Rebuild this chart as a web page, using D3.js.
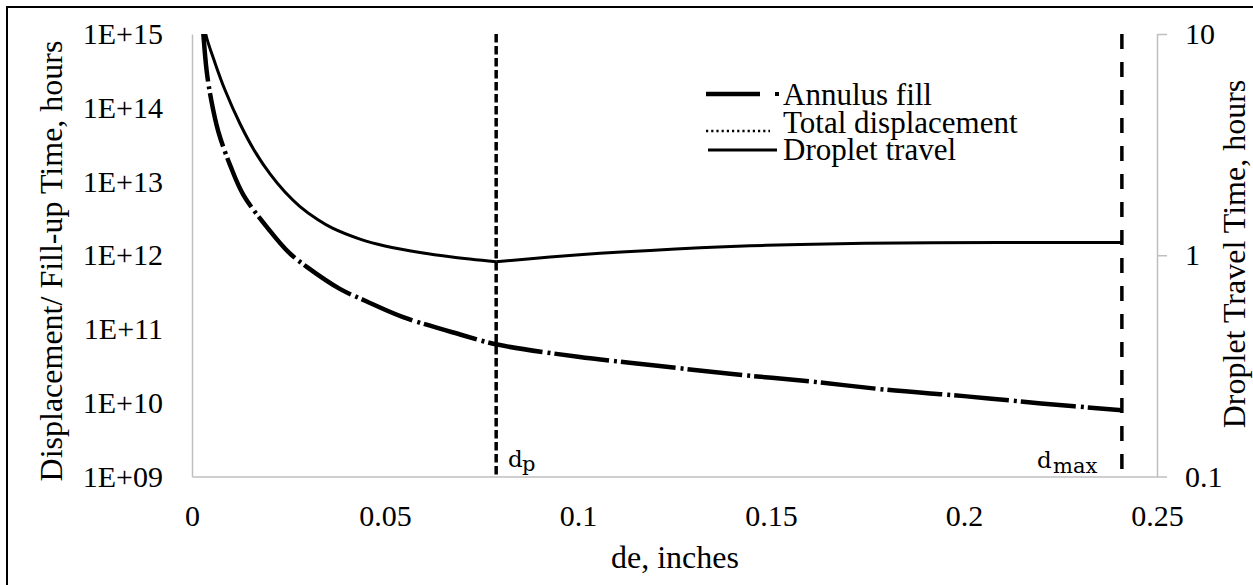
<!DOCTYPE html>
<html><head><meta charset="utf-8">
<script src="https://cdn.jsdelivr.net/npm/d3@7/dist/d3.min.js"></script>
<style>
body{margin:0;background:#fff;}
svg{display:block;font-family:"Liberation Serif","Times New Roman",serif;}
</style></head>
<body><svg id="c" width="1253" height="585"></svg>
<script>
// ---- data ----
const xTicks = [0, 0.05, 0.1, 0.15, 0.2, 0.25];
const xTickLabels = ["0", "0.05", "0.1", "0.15", "0.2", "0.25"];
const leftTicks = [1e9, 1e10, 1e11, 1e12, 1e13, 1e14, 1e15];
const leftTickLabels = ["1E+09", "1E+10", "1E+11", "1E+12", "1E+13", "1E+14", "1E+15"];
const rightTicks = [0.1, 1, 10];
const rightTickLabels = ["0.1", "1", "10"];

const annulusX = [0.0028,0.0038,0.005,0.0068,0.01,0.0133,0.02,0.025,0.03,0.0383,0.045,0.0547,0.0699,0.0788,0.1,0.12,0.14,0.16,0.18,0.2,0.22,0.2409];
const annulusY = [1.26e15,3.16e14,1.26e14,4.8e13,1.6e13,6.6e12,2.2e12,1.1e12,6.8e11,3.5e11,2.4e11,1.45e11,8.3e10,6.2e10,4.2e10,3.2e10,2.45e10,1.95e10,1.5e10,1.23e10,9.8e9,7.9e9];

const dropletX = [0.0030,0.00355,0.00596,0.00855,0.01244,0.01632,0.02021,0.02409,0.02798,0.03264,0.03627,0.04352,0.05,0.05907,0.06736,0.0788,0.09275,0.1057,0.1187,0.1316,0.1446,0.1575,0.1834,0.2093,0.2409];
const dropletY = [12,10,7.40,5.58,3.93,2.94,2.33,1.93,1.66,1.446,1.329,1.183,1.102,1.029,0.982,0.934,0.981,1.020,1.052,1.080,1.103,1.119,1.137,1.141,1.141];

const markerX = [0.0788, 0.2409];
const markerMain = ["d", "d"];
const markerSub = ["p", "max"];

const legendLabels = ["Annulus fill", "Total displacement", "Droplet travel"];

const xTitle = "de, inches";
const yLeftTitle = "Displacement/ Fill-up Time, hours";
const yRightTitle = "Droplet Travel Time, hours";

// ---- layout ----
const svg = d3.select("#c");
const L = 192, R = 1157, T = 34, B = 476.5;
const x = d3.scaleLinear().domain([0, 0.25]).range([L, R]);
const yL = d3.scaleLog().domain([1e9, 1e15]).range([B, T]);
const yR = d3.scaleLog().domain([0.1, 10]).range([B, T]);

// outer border
svg.append("rect").attr("x", 7).attr("y", 7).attr("width", 1300).attr("height", 700)
  .attr("fill", "none").attr("stroke", "#000").attr("stroke-width", 2);

svg.append("defs").append("clipPath").attr("id", "pa")
  .append("rect").attr("x", L).attr("y", T).attr("width", R - L).attr("height", B - T);

const gray = "#bfbfbf";
const FF = "Liberation Serif";
// left axis
const ga = svg.append("g").attr("transform", `translate(${L},0)`)
  .call(d3.axisLeft(yL).tickValues(leftTicks).tickFormat((d, i) => leftTickLabels[i]).tickSize(0).tickPadding(29));
ga.select(".domain").attr("stroke", gray).attr("stroke-width", 1.5);
ga.selectAll("text").attr("font-size", 30).attr("fill", "#000").attr("font-family", FF);

// right axis
const gr = svg.append("g").attr("transform", `translate(${R},0)`)
  .call(d3.axisRight(yR).tickValues(rightTicks).tickFormat((d, i) => rightTickLabels[i]).tickSizeInner(10).tickSizeOuter(0).tickPadding(18));
gr.select(".domain").attr("stroke", gray).attr("stroke-width", 1.5);
gr.selectAll(".tick line").attr("stroke", gray).attr("stroke-width", 1.5);
gr.selectAll("text").attr("font-size", 30).attr("fill", "#000").attr("font-family", FF);

// bottom axis
const gb = svg.append("g").attr("transform", `translate(0,${B})`)
  .call(d3.axisBottom(x).tickValues(xTicks).tickFormat((d, i) => xTickLabels[i]).tickSize(0).tickPadding(28));
gb.select(".domain").attr("stroke", gray).attr("stroke-width", 1.5);
gb.selectAll("text").attr("font-size", 30).attr("fill", "#000").attr("font-family", FF);

// titles
svg.append("text").attr("transform", "translate(62,261) rotate(-90)").attr("text-anchor", "middle")
  .attr("font-size", 32).text(yLeftTitle);
svg.append("text").attr("transform", "translate(1245,254) rotate(-90)").attr("text-anchor", "middle")
  .attr("font-size", 32).text(yRightTitle);
svg.append("text").attr("x", 675).attr("y", 568).attr("text-anchor", "middle")
  .attr("font-size", 32).text(xTitle);

// series
const plot = svg.append("g").attr("clip-path", "url(#pa)");
const annulus = annulusX.map((v, i) => [v, annulusY[i]]);
const droplet = dropletX.map((v, i) => [v, dropletY[i]]);

const curve = d3.curveCatmullRom.alpha(0.5);
const lineL = d3.line().x(d => x(d[0])).y(d => yL(d[1])).curve(curve);
const lineR = d3.line().x(d => x(d[0])).y(d => yR(d[1])).curve(curve);

// vertical markers
const dashes = ["8.5,3.5", "15,13"];
markerX.forEach((m, i) => {
  plot.append("line").attr("x1", x(m)).attr("x2", x(m)).attr("y1", T).attr("y2", B)
    .attr("stroke", "#000").attr("stroke-width", 3.5).attr("stroke-dasharray", dashes[i]);
});

plot.append("path").datum(annulus).attr("d", lineL).attr("fill", "none")
  .attr("stroke", "#000").attr("stroke-width", 4.5).attr("stroke-dasharray", "55,5,3,4");

const split = dropletX.indexOf(markerX[0]);
[droplet.slice(0, split + 1), droplet.slice(split)].forEach(seg => {
  plot.append("path").datum(seg).attr("d", lineR).attr("fill", "none")
    .attr("stroke", "#000").attr("stroke-width", 3);
});

// marker labels
const mlab = [
  {dx: 508, base: 467, sdx: 522, sbase: 471},
  {dx: 1037, base: 468, sdx: 1053, sbase: 473}
];
markerX.forEach((m, i) => {
  const t = svg.append("text").attr("font-family", "DejaVu Serif");
  t.append("tspan").attr("x", mlab[i].dx).attr("y", mlab[i].base).attr("font-size", 23).text(markerMain[i]);
  t.append("tspan").attr("x", mlab[i].sdx).attr("y", mlab[i].sbase).attr("font-size", 21).text(markerSub[i]);
});

// legend
const lg = svg.append("g");
const rowsY = [105, 133, 160];
lg.append("line").attr("x1", 706).attr("x2", 760).attr("y1", 94).attr("y2", 94)
  .attr("stroke", "#000").attr("stroke-width", 4.5);
lg.append("rect").attr("x", 775).attr("y", 92).attr("width", 4).attr("height", 4).attr("fill", "#000");
lg.append("line").attr("x1", 706).attr("x2", 770).attr("y1", 131).attr("y2", 131)
  .attr("stroke", "#000").attr("stroke-width", 2.4).attr("stroke-dasharray", "2.2,3");
lg.append("line").attr("x1", 708).attr("x2", 777).attr("y1", 150).attr("y2", 150)
  .attr("stroke", "#000").attr("stroke-width", 3);
legendLabels.forEach((l, i) => {
  lg.append("text").attr("x", 783).attr("y", rowsY[i]).attr("font-size", 31).text(l);
});
</script></body></html>
